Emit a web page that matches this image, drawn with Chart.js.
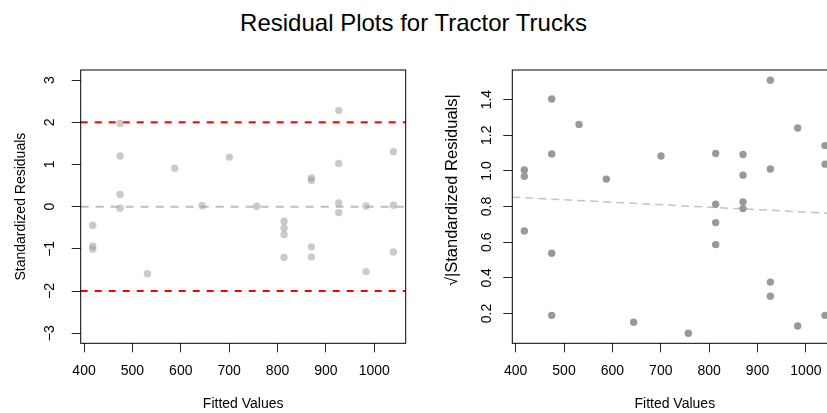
<!DOCTYPE html>
<html lang="en">
<head>
<meta charset="utf-8">
<title>Residual Plots for Tractor Trucks</title>
<script src="https://cdn.jsdelivr.net/npm/chart.js@4.4.1/dist/chart.umd.min.js"></script>
<style>
    html, body { margin: 0; padding: 0; width: 827px; height: 413px; overflow: hidden; background: #fff; }
    #title {
        position: absolute; left: 0; width: 827px; top: 11px;
        text-align: center; font: 24px/24px "Liberation Sans", Arial, Helvetica, sans-serif; color: #000;
    }
    #left { position: absolute; left: 0; top: 0; }
    #right { position: absolute; left: 413px; top: 0; }
</style>
</head>
<body>
<div id="title">Residual Plots for Tractor Trucks</div>
<canvas id="left" width="413" height="413"></canvas>
<canvas id="right" width="437" height="413"></canvas>
<script>
// fitted values and standardized residuals of the tractor truck model
const fitted = [
    418, 418, 418,
    474.5, 474.5, 474.5, 474.5,
    531, 587.5, 644, 700.5, 757,
    813.5, 813.5, 813.5, 813.5,
    870, 870, 870, 870,
    926.5, 926.5, 926.5, 926.5,
    983, 983,
    1039.5, 1039.5, 1039.5
];
const stdResiduals = [
    -0.44, -0.94, -1.01,
    1.97, 1.20, 0.29, -0.036,
    -1.59, 0.91, 0.023, 1.175, 0.008,
    -0.344, -0.504, -0.661, -1.204,
    0.683, 0.622, -0.953, -1.192,
    2.277, 1.022, 0.0885, -0.1415,
    0.017, -1.54,
    1.304, 0.036, -1.077
];
const sqrtAbsResiduals = stdResiduals.map(r => Math.sqrt(Math.abs(r)));

// reference lines and the scale-location trend
const limitLines = [-2, 2];
const zeroLine = 0;
const trendIntercept = 0.907;
const trendSlope = -0.000138;

// axis limits and ticks
const xLimits = [393.1, 1064.9];
const residLimits = [-3.24, 3.24];
const sqrtLimits = [0.033, 1.566];
const xTicks = [400, 500, 600, 700, 800, 900, 1000];
const residTicks = [-3, -2, -1, 0, 1, 2, 3];
const sqrtTicks = [0.2, 0.4, 0.6, 0.8, 1.0, 1.2, 1.4];

Chart.defaults.font.family = '"Liberation Sans", Arial, Helvetica, sans-serif';
Chart.defaults.font.size = 14;
Chart.defaults.color = '#000';

const points = (xs, ys) => xs.map((x, i) => ({x: x, y: ys[i]}));
const hline = y => [{x: xLimits[0], y: y}, {x: xLimits[1], y: y}];

// black frame around the plotting region
const frame = {
    id: 'frame',
    afterDraw(chart) {
        const a = chart.chartArea, ctx = chart.ctx;
        ctx.save();
        ctx.strokeStyle = '#000';
        ctx.lineWidth = 1;
        ctx.strokeRect(a.left, a.top, a.right - a.left, a.bottom - a.top);
        ctx.restore();
    }
};

function xAxis() {
    return {
        type: 'linear', min: xLimits[0], max: xLimits[1],
        afterBuildTicks: s => { s.ticks = xTicks.map(v => ({value: v})); },
        afterFit: s => { s.height = 69.7; },
        border: {display: false},
        grid: {drawOnChartArea: false, tickLength: 9, color: '#222'},
        ticks: {padding: 10, autoSkip: false, maxRotation: 0, callback: v => String(v)},
        title: {display: true, text: 'Fitted Values', padding: {top: 0, bottom: 0.6}}
    };
}

function yAxis(limits, ticks, width, pad, title, fmt) {
    return {
        type: 'linear', min: limits[0], max: limits[1],
        afterBuildTicks: s => { s.ticks = ticks.map(v => ({value: v})); },
        afterFit: s => { s.width = width; },
        border: {display: false},
        grid: {drawOnChartArea: false, tickLength: 9, color: '#222'},
        ticks: {padding: pad, autoSkip: false, minRotation: 90, maxRotation: 90,
                crossAlign: 'center', callback: fmt},
        title: Object.assign({display: true}, title)
    };
}

new Chart(document.getElementById('left'), {
    type: 'scatter',
    data: {
        datasets: [
            {data: points(fitted, stdResiduals), backgroundColor: 'rgba(150,150,150,0.5)',
             pointRadius: 3.7, pointHoverRadius: 3.7, borderWidth: 0},
            {data: hline(zeroLine), showLine: true, pointRadius: 0, borderColor: '#bebebe',
             borderWidth: 2, borderDash: [8, 7]},
            {data: hline(limitLines[0]), showLine: true, pointRadius: 0, borderColor: '#ff0000',
             borderWidth: 2, borderDash: [7, 7]},
            {data: hline(limitLines[1]), showLine: true, pointRadius: 0, borderColor: '#ff0000',
             borderWidth: 2, borderDash: [7, 7]}
        ]
    },
    options: {
        responsive: false, animation: false,
        layout: {padding: {top: 70, left: 0, right: 7.3, bottom: 0}},
        plugins: {legend: {display: false}, tooltip: {enabled: false}},
        scales: {
            x: xAxis(),
            y: yAxis(residLimits, residTicks, 80.7, 14,
                     {text: 'Standardized Residuals', padding: {top: 12.6, bottom: 0}},
                     v => String(v).replace('-', '\u2212'))
        }
    },
    plugins: [frame]
});

new Chart(document.getElementById('right'), {
    type: 'scatter',
    data: {
        datasets: [
            {data: points(fitted, sqrtAbsResiduals), backgroundColor: '#999999',
             pointRadius: 3.7, pointHoverRadius: 3.7, borderWidth: 0},
            {data: xLimits.map(x => ({x: x, y: trendIntercept + trendSlope * x})), showLine: true,
             pointRadius: 0, borderColor: '#c4c4c4', borderWidth: 1.5, borderDash: [8, 5]}
        ]
    },
    options: {
        responsive: false, animation: false,
        layout: {padding: {top: 70, left: 0, right: 12.7, bottom: 0}},
        plugins: {legend: {display: false}, tooltip: {enabled: false}},
        scales: {
            x: xAxis(),
            y: yAxis(sqrtLimits, sqrtTicks, 99.3, 6,
                     {text: '\u2003\u2003\u221A|Standardized Residuals|', font: {size: 16.5},
                      padding: {top: 29.4, bottom: 0}},
                     v => v.toFixed(1))
        }
    },
    plugins: [frame]
});
</script>
</body>
</html>
